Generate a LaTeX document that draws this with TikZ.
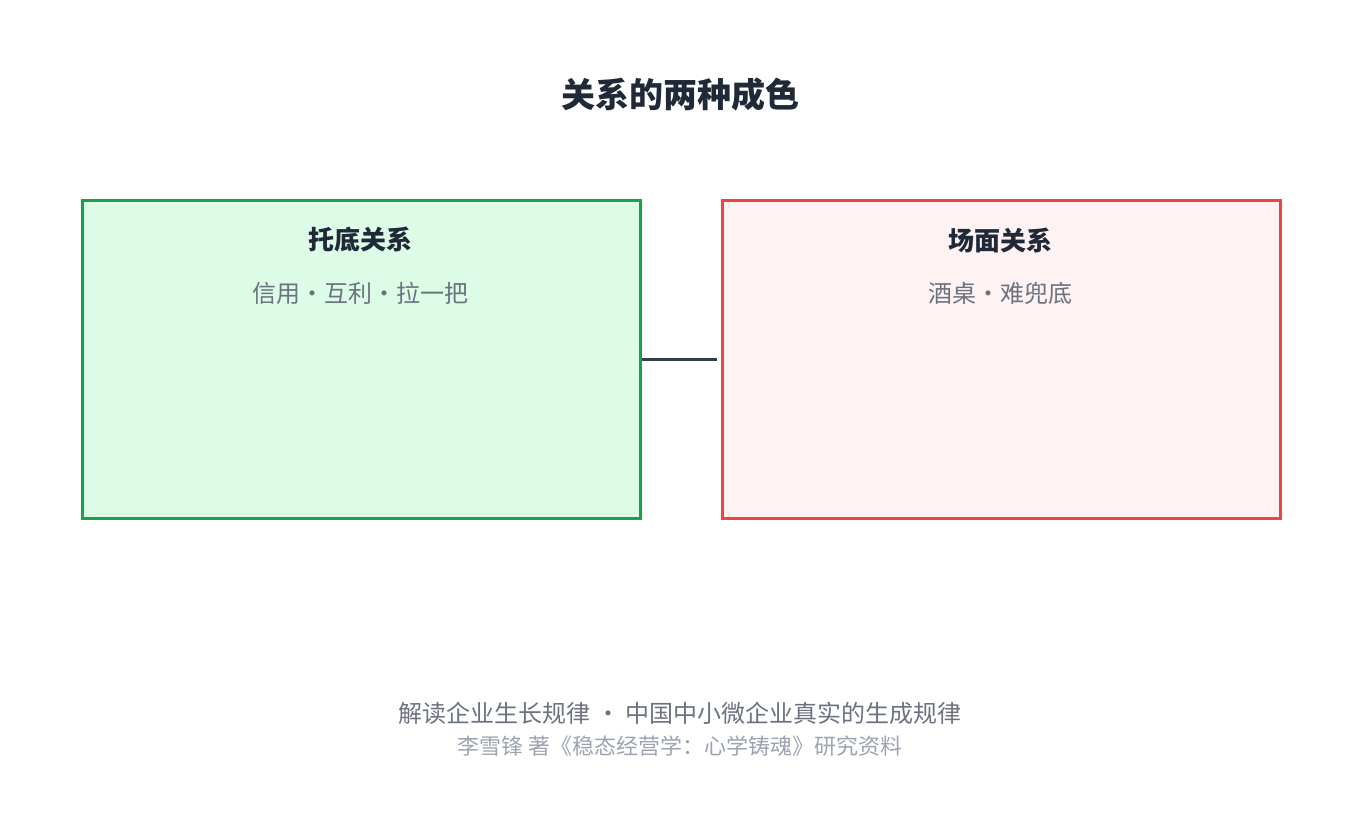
\documentclass[tikz,border=0pt]{standalone}
\usepackage{fontspec}
\newfontfamily\cjk{Noto Sans CJK SC}
\usetikzlibrary{positioning}
\definecolor{ink}{HTML}{1F2937}
\definecolor{grey}{HTML}{6B7280}
\definecolor{lgrey}{HTML}{9CA3AF}
\begin{document}
\begin{tikzpicture}[x=1pt,y=-1pt,
  panel/.style={draw, line width=2.5pt, minimum width=558pt, minimum height=318pt, anchor=north west},
  head/.style={font=\cjk\fontsize{26}{30}\selectfont\bfseries, text=ink},
  sub/.style={font=\cjk\fontsize{24}{28}\selectfont, text=grey}]
\useasboundingbox (0,0) rectangle (1360,830);
\node[font=\cjk\fontsize{34}{40}\selectfont\bfseries, text=ink] (title) at (680,95) {关系的两种成色};
\node[panel, draw={rgb,255:red,22;green,163;blue,74}, fill={rgb,255:red,220;green,252;blue,231}] (base) at (81,199) {};
\node[panel, draw={rgb,255:red,239;green,68;blue,68}, fill={rgb,255:red,254;green,242;blue,242}] (show) at (721,199) {};
\node[head] (baseT) at (360,240) {托底关系};
\node[sub] (baseS) at (360,293) {信用·互利·拉一把};
\node[head] (showT) at (1000,240) {场面关系};
\node[sub] (showS) at (1000,293) {酒桌·难兜底};
\draw[ink!90, line width=3pt] (base.east) -- ([xshift=-4pt]show.west);
\node[sub] (foot) at (680,713) {解读企业生长规律 · 中国中小微企业真实的生成规律};
\node[font=\cjk\fontsize{22}{26}\selectfont, text=lgrey] (src) at (680,746) {李雪锋 著《稳态经营学：心学铸魂》研究资料};
\end{tikzpicture}
\end{document}
